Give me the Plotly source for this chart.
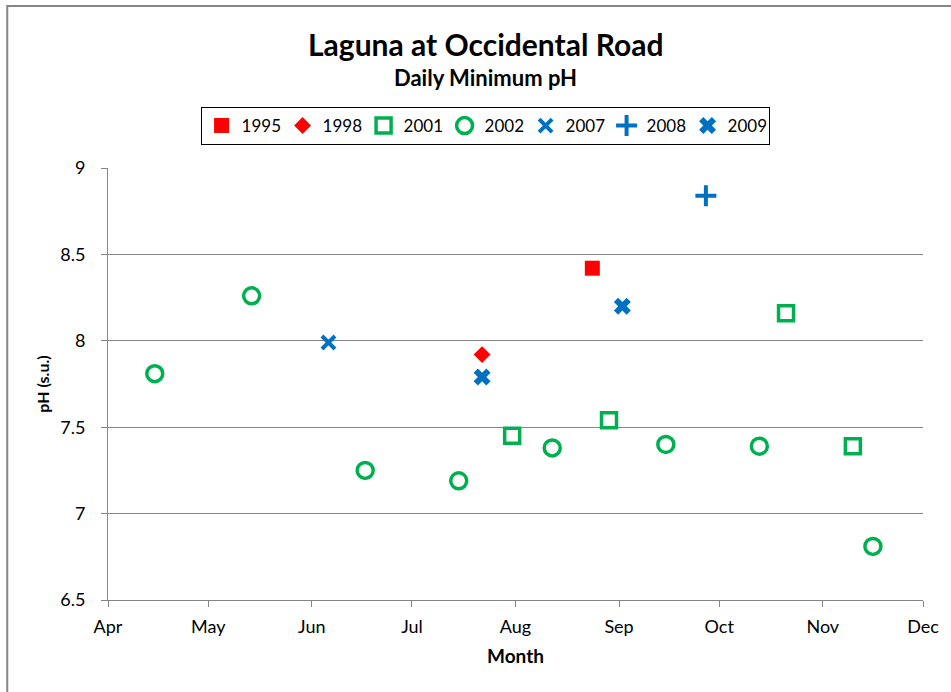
import plotly.graph_objects as go

# Sampling dates (month-day, plotted on a common year) and daily minimum pH
dates_1995 = ["2001-08-24"]
ph_1995 = [8.42]

dates_1998 = ["2001-07-22"]
ph_1998 = [7.92]

dates_2001 = ["2001-07-31", "2001-08-29", "2001-10-21", "2001-11-10"]
ph_2001 = [7.45, 7.54, 8.16, 7.39]

dates_2002 = ["2001-04-15", "2001-05-14", "2001-06-17", "2001-07-15",
              "2001-08-12", "2001-09-15", "2001-10-13", "2001-11-16"]
ph_2002 = [7.81, 8.26, 7.25, 7.19, 7.38, 7.40, 7.39, 6.81]

dates_2007 = ["2001-06-06"]
ph_2007 = [7.99]

dates_2008 = ["2001-09-27"]
ph_2008 = [8.84]

dates_2009 = ["2001-07-22", "2001-09-02"]
ph_2009 = [7.79, 8.20]

month_ticks = ["2001-04-01", "2001-05-01", "2001-06-01", "2001-07-01",
               "2001-08-01", "2001-09-01", "2001-10-01", "2001-11-01",
               "2001-12-01"]
month_labels = ["Apr", "May", "Jun", "Jul", "Aug", "Sep", "Oct", "Nov", "Dec"]

RED = "#FF0000"
GREEN = "#00B050"
BLUE = "#0070C0"
GRID = "#868686"
FONT = "Lato"

fig = go.Figure()

series = [
    ("1995", dates_1995, ph_1995, dict(symbol="square", size=15, color=RED)),
    ("1998", dates_1998, ph_1998, dict(symbol="diamond", size=13, color=RED)),
    ("2001", dates_2001, ph_2001, dict(symbol="square-open", size=15, color=GREEN,
                                      line=dict(width=3.5, color=GREEN))),
    ("2002", dates_2002, ph_2002, dict(symbol="circle-open", size=16, color=GREEN,
                                      line=dict(width=3.5, color=GREEN))),
    ("2007", dates_2007, ph_2007, dict(symbol="x-thin-open", size=13, color=BLUE,
                                      line=dict(width=4, color=BLUE))),
    ("2008", dates_2008, ph_2008, dict(symbol="cross-thin-open", size=15, color=BLUE,
                                      line=dict(width=4, color=BLUE))),
    ("2009", dates_2009, ph_2009, dict(symbol="x", size=15, color=BLUE,
                                      line=dict(width=0))),
]

for name, xs, ys, marker in series:
    fig.add_trace(go.Scatter(x=xs, y=ys, mode="markers", name=name, marker=marker))

plot_h = 692 - 168 - 92

fig.update_layout(
    width=951,
    height=692,
    margin=dict(l=108, r=26, t=168, b=92),
    paper_bgcolor="white",
    plot_bgcolor="white",
    font=dict(family=FONT, color="black", size=18),
    showlegend=True,
    legend=dict(
        orientation="h",
        x=(486 - 108) / 817, xanchor="center",
        y=(600 - 126) / plot_h, yanchor="middle",
        bordercolor="black", borderwidth=1,
        font=dict(family=FONT, size=17),
        entrywidth=36,
        itemwidth=30,
        tracegroupgap=0,
    ),
    xaxis=dict(
        type="date",
        range=["2001-04-01", "2001-12-01"],
        tickvals=month_ticks,
        ticktext=month_labels,
        showgrid=False,
        showline=True, linecolor=GRID, linewidth=1,
        ticks="outside", ticklen=6, tickcolor=GRID,
        ticklabelstandoff=4,
        tickfont=dict(family=FONT, size=18),
        title=dict(text="<b>Month</b>", font=dict(family=FONT, size=19), standoff=14),
        zeroline=False,
    ),
    yaxis=dict(
        range=[6.5, 9],
        tickvals=[6.5, 7, 7.5, 8, 8.5, 9],
        ticktext=["6.5", "7", "7.5", "8", "8.5", "9"],
        showgrid=True, gridcolor=GRID, gridwidth=1,
        showline=True, linecolor=GRID, linewidth=1,
        ticks="outside", ticklen=6, tickcolor=GRID,
        ticklabelstandoff=12,
        tickfont=dict(family=FONT, size=18),
        title=dict(text="<b>pH (s.u.)</b>", font=dict(family=FONT, size=16), standoff=6),
        zeroline=False,
    ),
    annotations=[
        dict(text="<b>Laguna at Occidental Road</b>", xref="paper", yref="paper",
             x=(486 - 108) / 817, y=(600 - 44) / plot_h, showarrow=False,
             xanchor="center", yanchor="middle",
             font=dict(family=FONT, size=30, color="black")),
        dict(text="<b>Daily Minimum pH</b>", xref="paper", yref="paper",
             x=(486 - 108) / 817, y=(600 - 77) / plot_h, showarrow=False,
             xanchor="center", yanchor="middle",
             font=dict(family=FONT, size=22, color="black")),
    ],
    shapes=[
        # chart area border (left and top edges visible)
        dict(type="rect", xref="paper", yref="paper",
             x0=(7 - 108) / 817, x1=(960 - 108) / 817,
             y0=(600 - 700) / plot_h, y1=(600 - 6) / plot_h,
             line=dict(color=GRID, width=2), fillcolor="rgba(0,0,0,0)",
             layer="below"),
    ],
)

fig.write_html("out.html")
